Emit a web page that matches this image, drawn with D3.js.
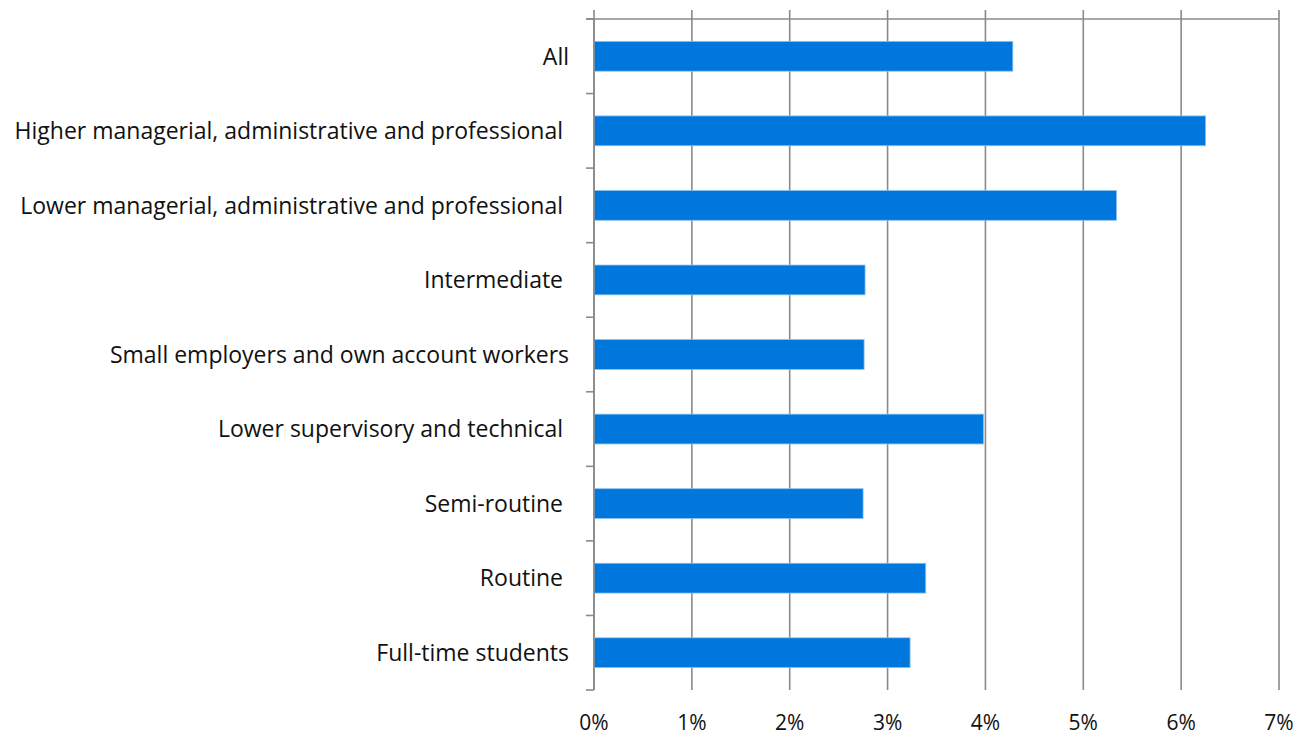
<!DOCTYPE html>
<html>
<head>
<meta charset="utf-8">
<script src="https://cdn.jsdelivr.net/npm/d3@7"></script>
<style>
  html, body { margin: 0; padding: 0; background: #fff; }
  svg { display: block; }
  text { font-family: "Open Sans", "Noto Sans", sans-serif; fill: #111; white-space: pre; font-variant-ligatures: none; }
</style>
</head>
<body>
<svg id="chart" width="1305" height="736"></svg>
<script>
// Share of each socio-economic group
const categories = [
  "All",
  "Higher managerial, administrative and professional ",
  "Lower managerial, administrative and professional ",
  "Intermediate ",
  "Small employers and own account workers",
  "Lower supervisory and technical ",
  "Semi-routine ",
  "Routine ",
  "Full-time students"
];
const values = [4.28, 6.25, 5.34, 2.77, 2.76, 3.98, 2.75, 3.39, 3.23];
const tickValues = [0, 1, 2, 3, 4, 5, 6, 7];

const W = 1305, H = 736;
const margin = { top: 19, right: 26, bottom: 46, left: 594 };
const innerW = W - margin.left - margin.right;
const innerH = H - margin.top - margin.bottom;

const axisColor = "#8a8a8a";

const svg = d3.select("#chart");
const g = svg.append("g").attr("transform", `translate(${margin.left},${margin.top})`);

const x = d3.scaleLinear().domain([0, 7]).range([0, innerW]);
const y = d3.scaleBand().domain(categories).range([0, innerH]).paddingInner(0.6).paddingOuter(0.3);

// vertical gridlines, extending above the top line as tick marks
g.append("g")
  .selectAll("line")
  .data(tickValues)
  .join("line")
  .attr("x1", d => x(d)).attr("x2", d => x(d))
  .attr("y1", -9).attr("y2", innerH)
  .attr("stroke", axisColor)
  .attr("stroke-width", 1.6);

// top horizontal line
g.append("line")
  .attr("x1", -8).attr("x2", x(7))
  .attr("y1", 0).attr("y2", 0)
  .attr("stroke", axisColor).attr("stroke-width", 1.6);

// category axis tick marks at band boundaries
const boundaries = d3.range(categories.length + 1).map(i => i * innerH / categories.length);
g.append("g")
  .selectAll("line")
  .data(boundaries)
  .join("line")
  .attr("x1", -8).attr("x2", 0)
  .attr("y1", d => d).attr("y2", d => d)
  .attr("stroke", axisColor).attr("stroke-width", 1.6);

// bars
g.append("g")
  .selectAll("rect")
  .data(values)
  .join("rect")
  .attr("x", x(0))
  .attr("y", (d, i) => y(categories[i]))
  .attr("width", d => x(d) - x(0))
  .attr("height", y.bandwidth())
  .attr("fill", "#0077dd")
  .attr("stroke", "#8cc3f0")
  .attr("stroke-width", 0.8);

// category axis line
g.append("line")
  .attr("x1", 0).attr("x2", 0)
  .attr("y1", 0).attr("y2", innerH)
  .attr("stroke", axisColor).attr("stroke-width", 1.6);

// category labels
g.append("g")
  .selectAll("text")
  .data(categories)
  .join("text")
  .attr("x", -25)
  .attr("y", d => y(d) + y.bandwidth() / 2)
  .attr("dy", "0.36em")
  .attr("text-anchor", "end")
  .style("font-size", "23px")
  .text(d => d);

// value axis labels
g.append("g")
  .selectAll("text")
  .data(tickValues)
  .join("text")
  .attr("x", d => x(d))
  .attr("y", innerH + 40)
  .attr("text-anchor", "middle")
  .style("font-size", "21px")
  .text(d => d3.format(".0%")(d / 100));
</script>
</body>
</html>
